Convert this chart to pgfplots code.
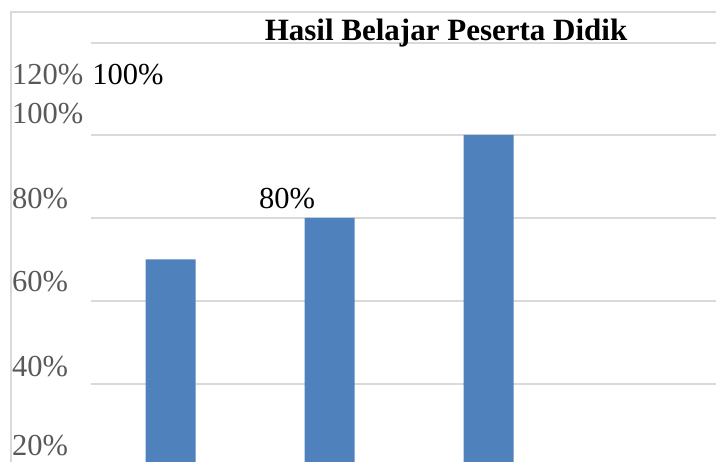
\documentclass[border=0pt]{standalone}
\usepackage{pgfplots}
\pgfplotsset{compat=1.18}
\usepackage{fontspec}
\setmainfont{Liberation Serif}
\definecolor{barblue}{HTML}{4F81BD}
\definecolor{gridgray}{HTML}{D9D9D9}
\definecolor{labgray}{HTML}{595959}
\begin{document}
\begin{tikzpicture}[x=1pt,y=1pt]
\useasboundingbox (0,0) rectangle (716,462);
\begin{scope}
\clip (0,0) rectangle (716,462);
\draw[gridgray, line width=2pt] (11,0) -- (11,450) -- (716,450);
\begin{axis}[
  at={(91pt,0pt)}, anchor=south west, scale only axis,
  width=625pt, height=419pt,
  xmin=-0.5, xmax=3.43, ymin=21.2, ymax=122.17,
  axis line style={draw=none},
  ytick={25.1,44.3,64.6,84.8,105.1,114.5},
  yticklabels={20\%,40\%,60\%,80\%,100\%,120\%},
  yticklabel style={anchor=west, inner sep=0pt, xshift=-79pt, font=\fontsize{30.5}{30.5}\selectfont, text=labgray},
  major tick length=0pt,
  extra y ticks={40,60,80,100,122.17},
  extra y tick labels={},
  extra y tick style={grid=major, major grid style={gridgray, line width=2pt}},
  xtick=\empty,
  ybar, bar width=50pt,
]
\addplot[fill=barblue, draw=none] coordinates {(0,70) (1,80) (2,100)};
\node[font=\fontsize{30.5}{30.5}\selectfont, anchor=center] at (axis cs:-0.267,114.5) {100\%};
\node[font=\fontsize{30.5}{30.5}\selectfont, anchor=center] at (axis cs:0.733,84.8) {80\%};
\end{axis}
\node[font=\fontsize{31}{31}\selectfont\bfseries, anchor=base] at (446,421) {Hasil Belajar Peserta Didik};
\end{scope}
\end{tikzpicture}
\end{document}
